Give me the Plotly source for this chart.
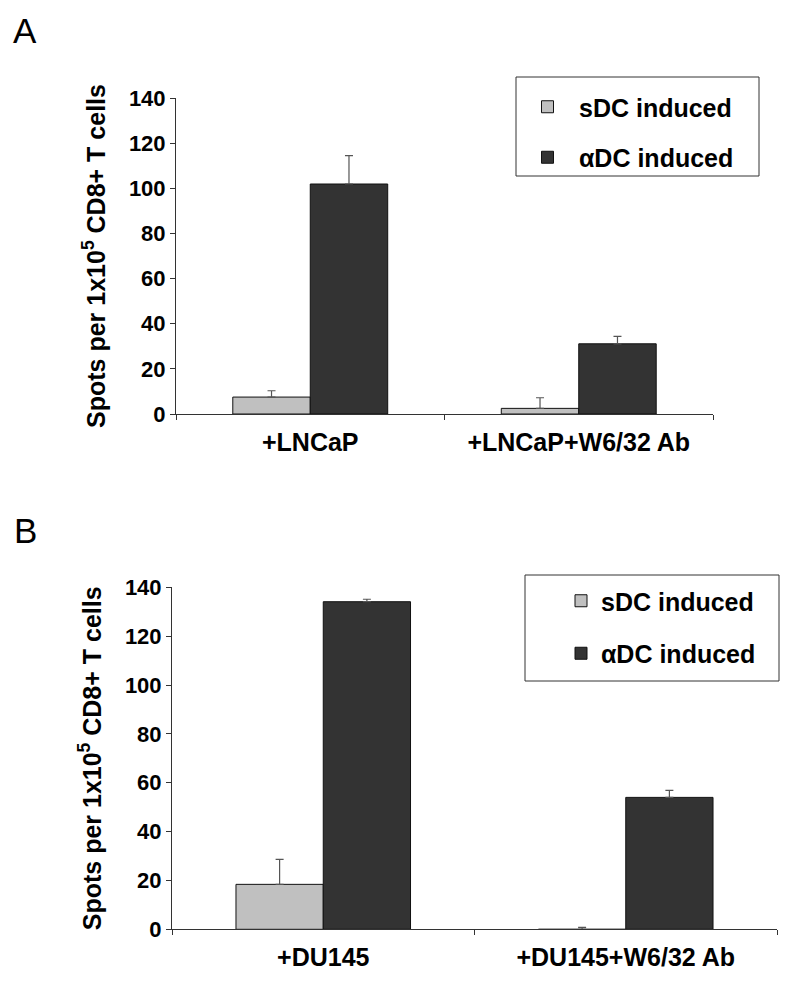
import plotly.graph_objects as go

# page body adds an 8px margin, so the figure is sized to the remaining viewport
OFF = 8
W, H = 795 - OFF, 987 - OFF

# ---- data ----
series_names = ["sDC induced", "\u03b1DC induced"]
series_colors = ["#c0c0c0", "#333333"]

cats_a = ["+LNCaP", "+LNCaP+W6/32 Ab"]
sdc_a = [7.5, 2.5]
sdc_a_err = [2.8, 4.7]
adc_a = [101.9, 31.1]
adc_a_err = [12.6, 3.3]

cats_b = ["+DU145", "+DU145+W6/32 Ab"]
sdc_b = [18.4, 0.0]
sdc_b_err = [10.2, 0.8]
adc_b = [134.1, 54.0]
adc_b_err = [1.0, 2.9]

y_ticks = [0, 20, 40, 60, 80, 100, 120, 140]
y_title = "Spots per 1x10<sup>5</sup> CD8+ T cells"

FONT = "Liberation Sans, Arial, sans-serif"


def px_x(p):
    return (p - OFF) / W


def px_y(p):
    return 1 - (p - OFF) / H


fig = go.Figure()

panels = [
    (cats_a, [sdc_a, adc_a], [sdc_a_err, adc_a_err], "x", "y", "legend", "a"),
    (cats_b, [sdc_b, adc_b], [sdc_b_err, adc_b_err], "x2", "y2", "legend2", "b"),
]
for cats, vals, errs, xa, ya, lg, tag in panels:
    for i in range(2):
        fig.add_trace(go.Bar(
            x=cats, y=vals[i], name="<b>" + series_names[i] + "</b>",
            marker=dict(color=series_colors[i], line=dict(color="#111111", width=1)),
            error_y=dict(type="data", array=errs[i], arrayminus=[0] * len(errs[i]),
                         symmetric=False, color="#555555", thickness=1.2, width=4),
            xaxis=xa, yaxis=ya, legend=lg, legendgroup=f"{tag}{i}",
        ))

common_y = dict(range=[0, 140], ticks="outside", ticklen=5, automargin=False,
                tickcolor="#333333", showline=True, linecolor="#333333", linewidth=1,
                showgrid=False, zeroline=False, ticklabelstandoff=0,
                tickfont=dict(family=FONT, size=22, color="#000"),
                title=dict(text="<b>" + y_title + "</b>",
                           font=dict(family=FONT, size=25, color="#000"), standoff=16))
common_x = dict(type="category", tickson="boundaries", ticks="outside", ticklen=5,
                automargin=False,
                tickcolor="#333333", showline=True, linecolor="#333333", linewidth=1,
                showgrid=False, zeroline=False, ticklabelstandoff=6,
                tickfont=dict(family=FONT, size=25, color="#000"))

fig.update_layout(
    width=W, height=H,
    margin=dict(l=0, r=0, t=0, b=0, autoexpand=False),
    paper_bgcolor="white", plot_bgcolor="white",
    barmode="group", bargap=0.423, bargroupgap=0,
    font=dict(family=FONT, color="#000"),
    xaxis=dict(common_x, domain=[px_x(176), px_x(713)], anchor="y",
               tickvals=cats_a, ticktext=["<b>" + c + "</b>" for c in cats_a]),
    yaxis=dict(common_y, domain=[px_y(414), px_y(98)], anchor="x",
               tickvals=y_ticks, ticktext=[f"<b>{v}</b>" for v in y_ticks]),
    xaxis2=dict(common_x, domain=[px_x(172), px_x(777)], anchor="y2",
                tickvals=cats_b, ticktext=["<b>" + c + "</b>" for c in cats_b]),
    yaxis2=dict(common_y, domain=[px_y(929.3), px_y(587.3)], anchor="x2",
                tickvals=y_ticks, ticktext=[f"<b>{v}</b>" for v in y_ticks]),
    legend=dict(x=px_x(516), y=px_y(84), xanchor="left", yanchor="top",
                bgcolor="rgba(0,0,0,0)", borderwidth=0, itemwidth=53,
                tracegroupgap=15, traceorder="grouped",
                font=dict(family=FONT, size=25, color="#000")),
    legend2=dict(x=px_x(561), y=px_y(578), xanchor="left", yanchor="top",
                 bgcolor="rgba(0,0,0,0)", borderwidth=0, itemwidth=30,
                 tracegroupgap=17, traceorder="grouped",
                 font=dict(family=FONT, size=25, color="#000")),
    showlegend=True,
)

# legend frames
fig.add_shape(type="rect", xref="paper", yref="paper",
              x0=px_x(516), x1=px_x(759), y0=px_y(176), y1=px_y(77),
              line=dict(color="#333333", width=1), fillcolor="rgba(0,0,0,0)")
fig.add_shape(type="rect", xref="paper", yref="paper",
              x0=px_x(525), x1=px_x(779), y0=px_y(681), y1=px_y(575),
              line=dict(color="#333333", width=1), fillcolor="rgba(0,0,0,0)")

# panel letters
fig.add_annotation(text="A", xref="paper", yref="paper", x=px_x(11), y=px_y(31),
                   xanchor="left", yanchor="middle", showarrow=False,
                   font=dict(family=FONT, size=35, color="#000"))
fig.add_annotation(text="B", xref="paper", yref="paper", x=px_x(12), y=px_y(530),
                   xanchor="left", yanchor="middle", showarrow=False,
                   font=dict(family=FONT, size=35, color="#000"))

fig.write_html("out.html")
